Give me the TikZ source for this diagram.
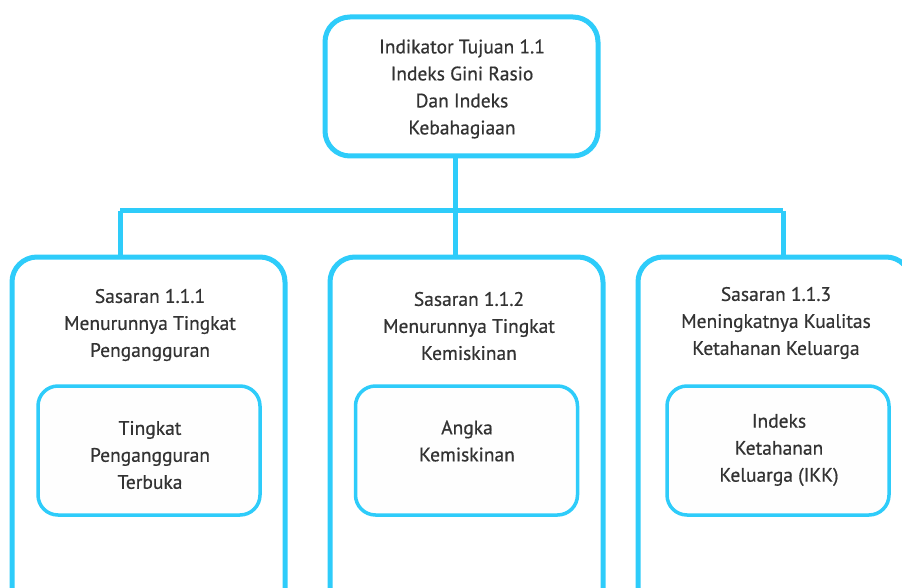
\documentclass[tikz,border=0pt]{standalone}
\usepackage{fontspec}
\setmainfont[FakeBold=0.6]{PT Sans}
\definecolor{cy}{HTML}{2ECCFA}
\definecolor{tx}{HTML}{333333}
\definecolor{inb}{HTML}{FEFEFE}
\begin{document}
\begin{tikzpicture}[x=1pt,y=-1pt,
  outerbox/.style={draw=cy,line width=5pt,rounded corners=25pt,fill=white,inner sep=0pt,minimum width=273pt,minimum height=360pt},
  topbox/.style={draw=cy,line width=5pt,rounded corners=25pt,fill=white,inner sep=0pt,minimum width=273pt,minimum height=139pt},
  innerbox/.style={draw=cy,line width=3.5pt,rounded corners=20pt,fill=inb,inner sep=0pt,minimum width=222pt,minimum height=129pt},
  txt/.style={text=tx,font=\fontsize{19.5}{27}\selectfont,align=center,inner sep=0pt},
  conn/.style={draw=cy,line width=5pt}]
\useasboundingbox (0,0) rectangle (902,588);
\clip (0,0) rectangle (902,588);
% junctions
\coordinate (jm) at (455,211);
\coordinate (jl) at (120,211);
\coordinate (jr) at (783,211);
% boxes
\node[topbox] (top) at (461.5,86.5) {};
\node[outerbox] (b1) at (148.5,437) {};
\node[outerbox] (b2) at (466.5,437) {};
\node[outerbox] (b3) at (774.5,437) {};
\node[innerbox] (i1) at (149,450.5) {};
\node[innerbox] (i2) at (466.5,450.5) {};
\node[innerbox] (i3) at (778,450.5) {};
% connectors
\draw[conn] (top.south -| jm) -- (jm);
\draw[conn] (jl) -- (jr);
\draw[conn] (jl) -- (b1.north -| jl);
\draw[conn] (jm) -- (b2.north -| jm);
\draw[conn] (jr) -- (b3.north -| jr);
% texts
\node[txt] (t0) at (462,89) {Indikator Tujuan 1.1\\Indeks Gini Rasio\\Dan Indeks\\Kebahagiaan};
\node[txt] (t1) at (150,325) {Sasaran 1.1.1\\Menurunnya Tingkat\\Pengangguran};
\node[txt] (t2) at (469,326) {Sasaran 1.1.2\\Menurunnya Tingkat\\Kemiskinan};
\node[txt] (t3) at (776,323) {Sasaran 1.1.3\\Meningkatnya Kualitas\\Ketahanan Keluarga};
\node[txt] (u1) at (150,455) {Tingkat\\Pengangguran\\Terbuka};
\node[txt] (u2) at (467,441) {Angka\\Kemiskinan};
\node[txt] (u3) at (779,450) {Indeks\\Ketahanan\\Keluarga (IKK)};
\end{tikzpicture}
\end{document}
